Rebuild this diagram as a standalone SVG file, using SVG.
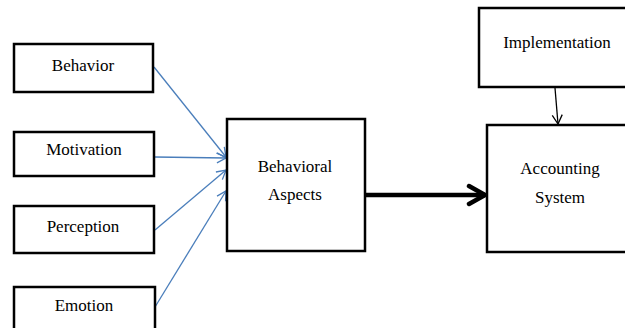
<svg xmlns="http://www.w3.org/2000/svg" width="625" height="328" viewBox="0 0 625 328">
<style>
.box{fill:#fff;stroke:#000;stroke-width:2.5}
.t{font-family:"Liberation Serif","Times New Roman",serif;font-size:17px;fill:#000;text-anchor:middle}
.blue{stroke:#4a7ebb;stroke-width:1.3;fill:none}
</style>
<defs>
<marker id="ab" markerWidth="12" markerHeight="12" refX="10" refY="6" orient="auto" markerUnits="userSpaceOnUse">
<path d="M1,1 L10,6 L1,11" fill="none" stroke="#4a7ebb" stroke-width="1.3"/>
</marker>
<marker id="ak" markerWidth="22" markerHeight="24" refX="19" refY="12" orient="auto" markerUnits="userSpaceOnUse">
<path d="M3,3 L19,12 L3,21" fill="none" stroke="#000" stroke-width="4.5" stroke-linecap="round" stroke-linejoin="round"/>
</marker>
<marker id="at" markerWidth="12" markerHeight="12" refX="10" refY="6" orient="auto" markerUnits="userSpaceOnUse">
<path d="M1,1 L10,6 L1,11" fill="none" stroke="#000" stroke-width="1.3"/>
</marker>
</defs>
<g id="connectors">
<line class="blue" x1="154" y1="67" x2="226" y2="157" marker-end="url(#ab)"/>
<line class="blue" x1="155" y1="157" x2="226" y2="158" marker-end="url(#ab)"/>
<line class="blue" x1="155" y1="230" x2="226" y2="170" marker-end="url(#ab)"/>
<line class="blue" x1="155" y1="307" x2="226" y2="191" marker-end="url(#ab)"/>
<line x1="366" y1="195" x2="485" y2="195" stroke="#000" stroke-width="4.5" marker-end="url(#ak)"/>
<line x1="555" y1="88" x2="558" y2="124" stroke="#000" stroke-width="1.3" marker-end="url(#at)"/>
</g>
<g id="behavior"><rect class="box" x="14" y="44" width="139" height="48"/><text class="t" x="83" y="71">Behavior</text></g>
<g id="motivation"><rect class="box" x="14" y="132" width="140" height="44"/><text class="t" x="84" y="155">Motivation</text></g>
<g id="perception"><rect class="box" x="14" y="206" width="140" height="47"/><text class="t" x="83" y="232">Perception</text></g>
<g id="emotion"><rect class="box" x="14" y="287" width="141" height="50"/><text class="t" x="84" y="311">Emotion</text></g>
<g id="behavioral-aspects"><rect class="box" x="227" y="119" width="138" height="132"/><text class="t" x="295" y="172">Behavioral</text><text class="t" x="295" y="200">Aspects</text></g>
<g id="implementation"><rect class="box" x="479" y="8" width="150" height="79"/><text class="t" x="557" y="48">Implementation</text></g>
<g id="accounting-system"><rect class="box" x="487" y="125" width="145" height="127"/><text class="t" x="560" y="174">Accounting</text><text class="t" x="560" y="203">System</text></g>
</svg>
